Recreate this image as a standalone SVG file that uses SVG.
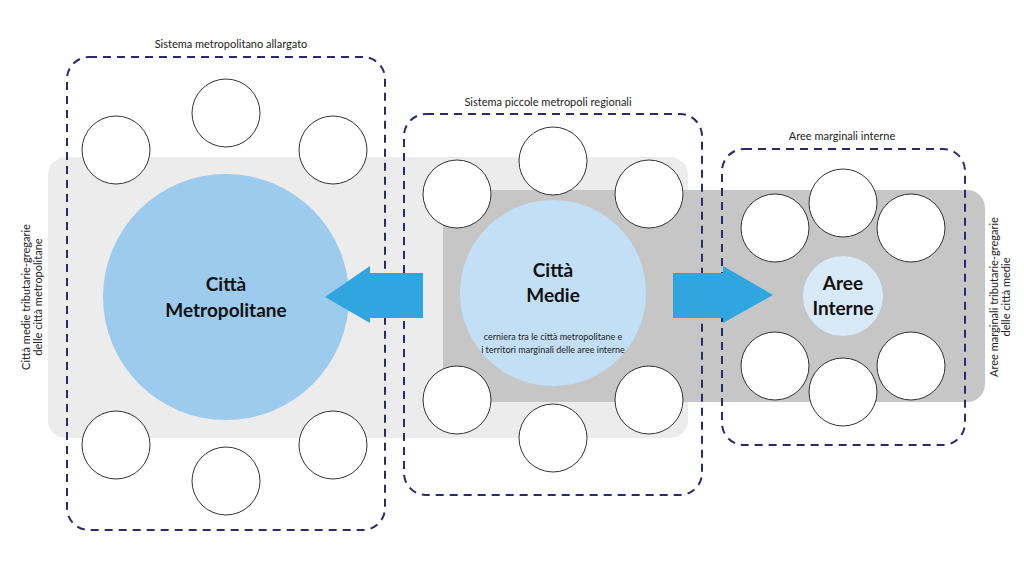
<svg xmlns="http://www.w3.org/2000/svg" width="1024" height="568" viewBox="0 0 1024 568">
<style>
.lbl{font-family:"Lato","Liberation Sans",sans-serif;font-size:11px;fill:#222}
.big{font-family:"Lato","Liberation Sans",sans-serif;font-size:19px;font-weight:bold;fill:#111;text-anchor:middle}
.sm{font-family:"Lato","Liberation Sans",sans-serif;font-size:9px;fill:#222;text-anchor:middle}
.box{fill:none;stroke:#2b2a6b;stroke-width:2;stroke-dasharray:8,6}
.c{fill:#fff;stroke:#333;stroke-width:1}
.arr{fill:#2fa6e0}
</style>
<rect width="1024" height="568" fill="#fff"/>
<rect x="48" y="157" width="640" height="281" rx="18" fill="#ececec"/>
<rect x="443" y="190" width="542" height="212" rx="18" fill="#c6c6c6"/>
<g id="box-metro"><rect class="box" x="67" y="57" width="318" height="473" rx="22"/>
<text class="lbl" x="231" y="48" text-anchor="middle">Sistema metropolitano allargato</text></g>
<g id="box-medie"><rect class="box" x="404" y="114" width="298" height="381" rx="22"/>
<text class="lbl" x="548" y="106" text-anchor="middle">Sistema piccole metropoli regionali</text></g>
<g id="box-interne"><rect class="box" x="722" y="149" width="243" height="296" rx="22"/>
<text class="lbl" x="842" y="140" text-anchor="middle">Aree marginali interne</text></g>
<g id="satellites">
<circle class="c" cx="226" cy="113" r="34"/><circle class="c" cx="116" cy="150" r="34"/><circle class="c" cx="333" cy="150" r="34"/>
<circle class="c" cx="116" cy="445" r="34"/><circle class="c" cx="333" cy="445" r="34"/><circle class="c" cx="226" cy="481" r="34"/>
<circle class="c" cx="553" cy="161" r="34"/><circle class="c" cx="457" cy="194" r="34"/><circle class="c" cx="649" cy="194" r="34"/>
<circle class="c" cx="457" cy="400" r="34"/><circle class="c" cx="649" cy="400" r="34"/><circle class="c" cx="553" cy="438" r="34"/>
<circle class="c" cx="843" cy="203" r="34"/><circle class="c" cx="775" cy="228" r="34"/><circle class="c" cx="911" cy="228" r="34"/>
<circle class="c" cx="775" cy="366" r="34"/><circle class="c" cx="911" cy="366" r="34"/><circle class="c" cx="843" cy="392" r="34"/>
</g>
<g id="citta-metropolitane"><circle cx="226" cy="297" r="123" fill="#9ccbed"/>
<text class="big" x="226" y="291">Città</text><text class="big" x="226" y="317">Metropolitane</text></g>
<g id="citta-medie"><circle cx="553" cy="293" r="93" fill="#c3dff5"/>
<text class="big" x="553" y="277">Città</text><text class="big" x="553" y="302">Medie</text>
<text class="sm" x="553" y="340">cerniera tra le città metropolitane e</text>
<text class="sm" x="553" y="353">i territori marginali delle aree interne</text></g>
<g id="aree-interne"><circle cx="843" cy="296" r="40" fill="#d8eaf8"/>
<text class="big" x="843" y="290">Aree</text><text class="big" x="843" y="315">Interne</text></g>
<g id="connectors">
<polygon class="arr" points="423,273 370,273 370,266 325,297 370,323 370,318 423,318"/>
<polygon class="arr" points="673,273 723,273 723,266 773,295 723,323 723,318 673,318"/>
</g>
<text class="lbl" font-size="9.5" transform="translate(30,297) rotate(-90)" text-anchor="middle">Città medie tributarie-gregarie</text>
<text class="lbl" font-size="9.5" transform="translate(42,297) rotate(-90)" text-anchor="middle">delle città metropolitane</text>
<text class="lbl" font-size="9.5" transform="translate(998,297) rotate(-90)" text-anchor="middle">Aree marginali tributarie-gregarie</text>
<text class="lbl" font-size="9.5" transform="translate(1010,297) rotate(-90)" text-anchor="middle">delle città medie</text>
</svg>
